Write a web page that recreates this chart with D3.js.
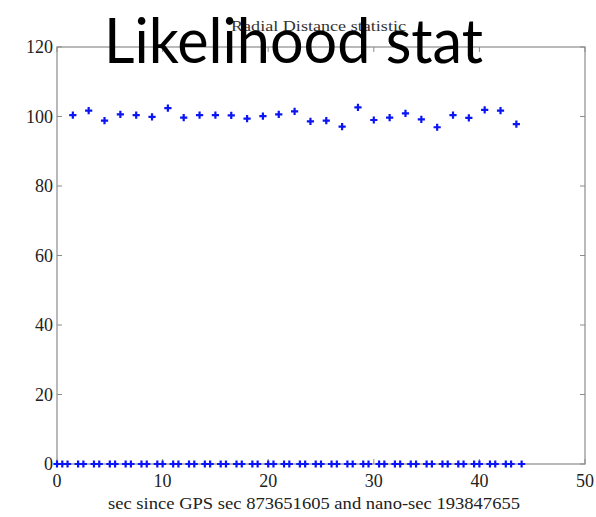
<!DOCTYPE html>
<html>
<head>
<meta charset="utf-8">
<script src="https://cdn.jsdelivr.net/npm/d3@7"></script>
<style>
  html, body { margin: 0; padding: 0; background: #fff; }
  svg { display: block; }
</style>
</head>
<body>
<svg id="chart" width="596" height="517"></svg>
<script>
// Sample times (s), every half second
const times = [
  0, 0.5, 1, 1.5, 2, 2.5, 3, 3.5, 4, 4.5, 5, 5.5, 6, 6.5, 7, 7.5, 8, 8.5, 9, 9.5,
  10, 10.5, 11, 11.5, 12, 12.5, 13, 13.5, 14, 14.5, 15, 15.5, 16, 16.5, 17, 17.5,
  18, 18.5, 19, 19.5, 20, 20.5, 21, 21.5, 22, 22.5, 23, 23.5, 24, 24.5, 25, 25.5,
  26, 26.5, 27, 27.5, 28, 28.5, 29, 29.5, 30, 30.5, 31, 31.5, 32, 32.5, 33, 33.5,
  34, 34.5, 35, 35.5, 36, 36.5, 37, 37.5, 38, 38.5, 39, 39.5, 40, 40.5, 41, 41.5,
  42, 42.5, 43, 43.5, 44
];
// Radial distance statistic at each sample time
const stat = [
  0, 0, 0, 100.4, 0, 0, 101.7, 0, 0, 98.8, 0, 0, 100.6, 0, 0, 100.4, 0, 0, 99.9, 0,
  0, 102.4, 0, 0, 99.7, 0, 0, 100.4, 0, 0, 100.4, 0, 0, 100.3, 0, 0,
  99.4, 0, 0, 100.1, 0, 0, 100.6, 0, 0, 101.5, 0, 0, 98.6, 0, 0, 98.8,
  0, 0, 97.1, 0, 0, 102.6, 0, 0, 99.0, 0, 0, 99.7, 0, 0, 100.9, 0,
  0, 99.2, 0, 0, 96.9, 0, 0, 100.4, 0, 0, 99.6, 0, 0, 101.9, 0, 0,
  101.7, 0, 0, 97.8, 0
];
const xTicks = [0, 10, 20, 30, 40, 50];
const yTicks = [0, 20, 40, 60, 80, 100, 120];

const svg = d3.select("#chart");
const plotL = 57, plotR = 585, plotT = 47, plotB = 464;

const x = d3.scaleLinear().domain([0, 50]).range([plotL, plotR]);
const y = d3.scaleLinear().domain([0, 120]).range([plotB, plotT]);

const frameColor = "#8c8c8c";
const textColor = "#222";
const serif = "'Liberation Serif', 'Times New Roman', serif";

// Plot frame
svg.append("rect")
  .attr("x", plotL).attr("y", plotT)
  .attr("width", plotR - plotL).attr("height", plotB - plotT)
  .attr("fill", "none").attr("stroke", frameColor).attr("stroke-width", 1.2);

// Inward ticks on all four sides
const tickLen = 5;
const tickG = svg.append("g").attr("stroke", frameColor).attr("stroke-width", 1);
xTicks.forEach(t => {
  tickG.append("line").attr("x1", x(t)).attr("x2", x(t)).attr("y1", plotB).attr("y2", plotB - tickLen);
  tickG.append("line").attr("x1", x(t)).attr("x2", x(t)).attr("y1", plotT).attr("y2", plotT + tickLen);
});
yTicks.forEach(t => {
  tickG.append("line").attr("x1", plotL).attr("x2", plotL + tickLen).attr("y1", y(t)).attr("y2", y(t));
  tickG.append("line").attr("x1", plotR).attr("x2", plotR - tickLen).attr("y1", y(t)).attr("y2", y(t));
});

// Tick labels
svg.append("g").selectAll("text").data(xTicks).join("text")
  .attr("x", d => x(d)).attr("y", plotB + 23)
  .attr("text-anchor", "middle")
  .attr("font-family", serif).attr("font-size", 18).attr("fill", textColor)
  .text(d => d);
svg.append("g").selectAll("text").data(yTicks).join("text")
  .attr("x", plotL - 4).attr("y", d => y(d) + 6)
  .attr("text-anchor", "end")
  .attr("font-family", serif).attr("font-size", 18).attr("fill", textColor)
  .text(d => d);

// Axis label
svg.append("text")
  .attr("x", 108).attr("y", 509)
  .attr("font-family", serif).attr("font-size", 17).attr("fill", textColor)
  .attr("textLength", 412).attr("lengthAdjust", "spacingAndGlyphs")
  .text("sec since GPS sec 873651605 and nano-sec 193847655");

// Data markers: plus signs
const arm = 3.6;
const marks = svg.append("g").attr("stroke", "#0a14f5").attr("stroke-width", 2.2);
times.forEach((t, i) => {
  const cx = x(t), cy = y(stat[i]);
  marks.append("path")
    .attr("d", `M${cx - arm},${cy}H${cx + arm}M${cx},${cy - arm}V${cy + arm}`);
});

// Plot title
svg.append("text")
  .attr("x", 231).attr("y", 31)
  .attr("font-family", serif).attr("font-size", 15).attr("fill", "#333")
  .attr("textLength", 175).attr("lengthAdjust", "spacingAndGlyphs")
  .text("Radial Distance statistic");

// Slide heading
svg.append("text")
  .attr("x", 104).attr("y", 63)
  .attr("font-family", "Lato, 'Open Sans', sans-serif").attr("font-size", 62)
  .attr("fill", "#000")
  .attr("textLength", 379).attr("lengthAdjust", "spacingAndGlyphs")
  .text("Likelihood stat");
</script>
</body>
</html>
